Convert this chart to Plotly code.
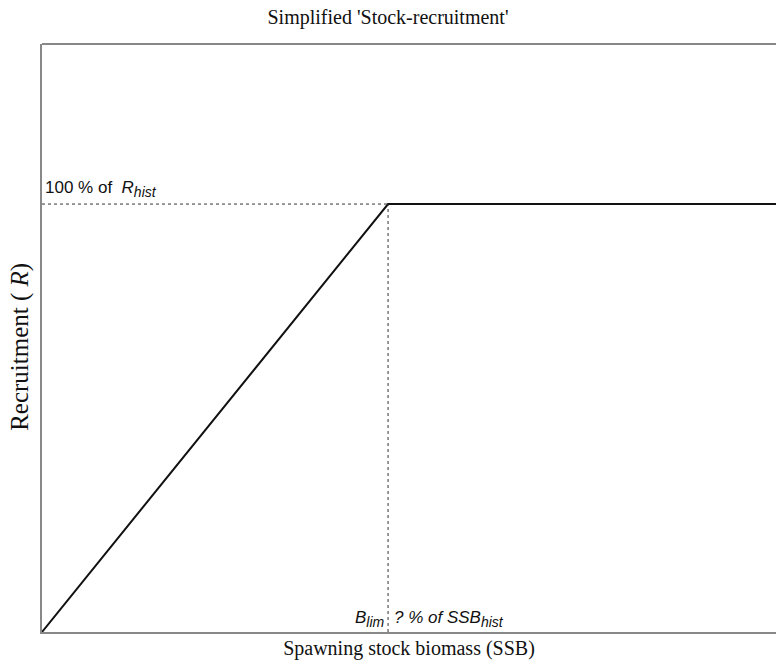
import plotly.graph_objects as go

# data
ssb = [0.0, 1.0, 2.2]
recruit = [0.0, 1.0, 1.0]
blim = 1.0
r_hist = 1.0
x_range = [0.0, 2.121]
y_range = [0.0, 1.374]

fig = go.Figure()
fig.add_trace(go.Scatter(x=ssb, y=recruit, mode="lines",
                         line=dict(color="#111111", width=2), showlegend=False, hoverinfo="skip"))
# dotted guides
fig.add_trace(go.Scatter(x=[0, blim], y=[r_hist, r_hist], mode="lines",
                         line=dict(color="#333333", width=1, dash="dot"), showlegend=False, hoverinfo="skip"))
fig.add_trace(go.Scatter(x=[blim, blim], y=[0, r_hist], mode="lines",
                         line=dict(color="#333333", width=1, dash="dot"), showlegend=False, hoverinfo="skip"))

sans = "Liberation Sans, Arial, sans-serif"
serif = "Liberation Serif, Times New Roman, serif"
sub = lambda s: "<sub><span style='font-size:14px'>" + s + "</span></sub>"

fig.add_annotation(x=0.0, y=r_hist, xref="x", yref="y", xanchor="left", yanchor="bottom",
                   text="100 % of  <i>R</i>" + sub("<i>hist</i>"), showarrow=False,
                   xshift=1, yshift=2,
                   font=dict(family=sans, size=17, color="#111111"))
fig.add_annotation(x=blim, y=0, xref="x", yref="y", xanchor="right", yanchor="bottom",
                   text="<i>B</i>" + sub("<i>lim</i>"), showarrow=False, xshift=-1, yshift=0,
                   font=dict(family=sans, size=17, color="#111111"))
fig.add_annotation(x=blim, y=0, xref="x", yref="y", xanchor="left", yanchor="bottom",
                   text="<i>? % of SSB</i>" + sub("<i>hist</i>"), showarrow=False, xshift=4, yshift=0,
                   font=dict(family=sans, size=17, color="#111111"))
# y-axis title as rotated annotation
fig.add_annotation(x=0, y=0.485, xref="paper", yref="paper", xanchor="center", yanchor="middle",
                   xshift=-22, textangle=-90, showarrow=False,
                   text="Recruitment ( <i>R</i>)",
                   font=dict(family=serif, size=25, color="#111111"))

fig.add_shape(type="line", xref="paper", yref="paper", x0=0, x1=1, y0=1, y1=1,
              line=dict(color="#888888", width=2))

fig.update_layout(
    width=776, height=666,
    margin=dict(l=42, r=0, t=44, b=34),
    paper_bgcolor="white", plot_bgcolor="white",
    title=dict(text="Simplified 'Stock-recruitment'", x=0.5, xanchor="center",
               y=1 - 17 / 666, yanchor="middle",
               font=dict(family=serif, size=20, color="#111111")),
    xaxis=dict(range=x_range, showgrid=False, zeroline=False, showticklabels=False, ticks="",
               showline=True, linecolor="#888888", linewidth=2, automargin=False,
               title=dict(text="Spawning stock biomass (SSB)", standoff=8,
                          font=dict(family=serif, size=20, color="#111111"))),
    yaxis=dict(range=y_range, showgrid=False, zeroline=False, showticklabels=False, ticks="",
               showline=True, linecolor="#888888", linewidth=2, automargin=False),
)

fig.write_html("out.html", config={"displayModeBar": False},
               post_script="document.body.style.margin='0px';")
